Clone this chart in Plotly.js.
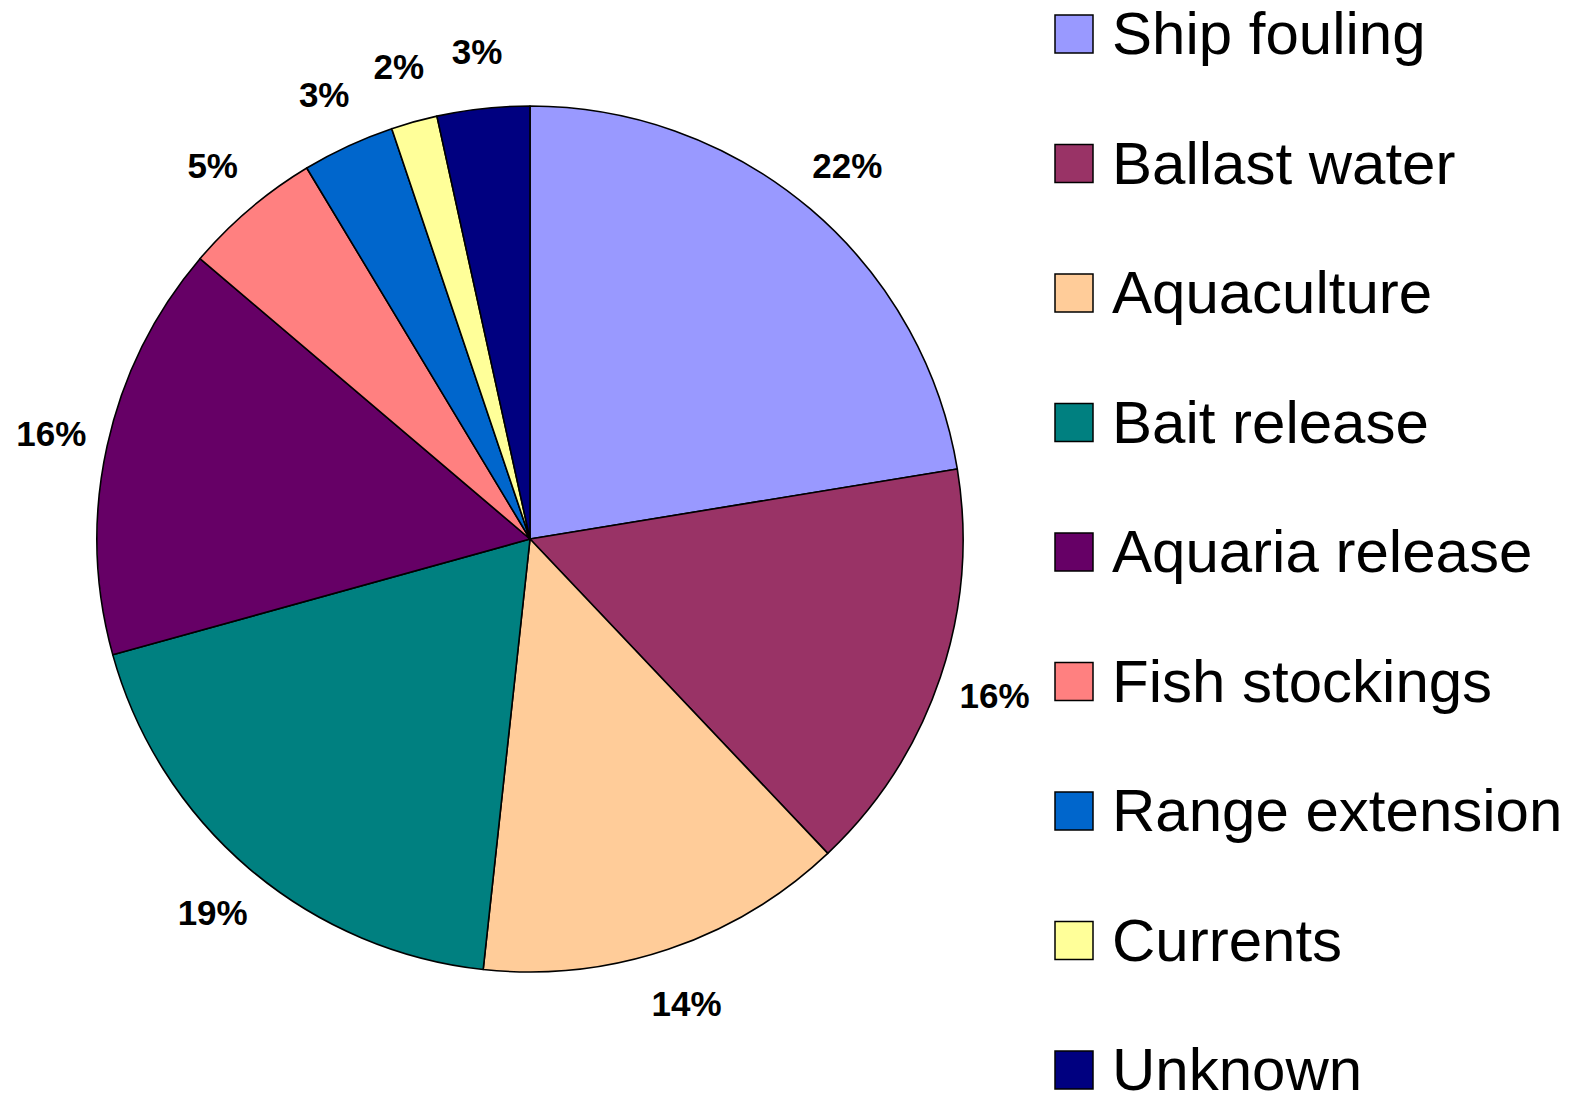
<!DOCTYPE html>
<html>
<head>
<meta charset="utf-8">
<script src="https://cdn.plot.ly/plotly-3.0.1.min.js"></script>
<style>
  html, body { margin: 0; padding: 0; background: #ffffff; }
  #chart { width: 1576px; height: 1094px; }
</style>
</head>
<body>
<div id="chart"></div>
<script>
// ---- data ----
const categories = ["Ship fouling", "Ballast water", "Aquaculture", "Bait release",
                    "Aquaria release", "Fish stockings", "Range extension", "Currents", "Unknown"];
const counts = [13, 9, 8, 11, 9, 3, 2, 1, 2];
const sliceColors = ["#9999FF", "#993366", "#FFCC99", "#008080", "#660066",
                     "#FF8080", "#0066CC", "#FFFF99", "#000080"];

// ---- layout geometry (pixels) ----
const W = 1576, H = 1094;
const cx = 530, cy = 539, R = 433;     // pie centre and radius
const labelRadius = 1.132;             // label distance in pie radii
const labelDrop = 4;                   // px, vertical text correction
const legendX = 1074, legendTop = 34, legendStep = 129.5;
const legendTextOffset = 38;
const legendTextDrop = 5;              // px, vertical text correction
const FONT = "Arial, 'Liberation Sans', sans-serif";

// ---- derived label positions (from the data) ----
const total = counts.reduce((a, b) => a + b, 0);
const pctText = [], lx = [], ly = [];
let cum = 0;
counts.forEach(v => {
  const mid = (cum + v / 2) / total * 2 * Math.PI; // clockwise from top
  cum += v;
  lx.push(labelRadius * Math.sin(mid));
  ly.push(labelRadius * Math.cos(mid) - labelDrop / R);
  pctText.push(Math.round(v / total * 100) + "%");
});
const legY = categories.map((c, i) => -i);
const legYT = categories.map((c, i) => -i - legendTextDrop / legendStep);
const legX0 = categories.map(() => 0);
const legXT = categories.map(() => legendTextOffset);

const pie = {
  type: "pie",
  values: counts,
  labels: categories,
  marker: { colors: sliceColors, line: { color: "#000000", width: 1.6 } },
  sort: false,
  direction: "clockwise",
  rotation: 0,
  textinfo: "none",
  hoverinfo: "label+percent",
  domain: { x: [(cx - R) / W, (cx + R) / W], y: [(H - cy - R) / H, (H - cy + R) / H] },
  showlegend: false
};

const pctLabels = {
  type: "scatter",
  mode: "text",
  x: lx, y: ly,
  text: pctText,
  textposition: "middle center",
  textfont: { family: FONT, size: 35, color: "#000000", weight: "bold" },
  cliponaxis: false,
  hoverinfo: "skip",
  xaxis: "x", yaxis: "y",
  showlegend: false
};

const legSquares = {
  type: "scatter",
  mode: "markers",
  x: legX0, y: legY,
  marker: { symbol: "square", size: 38, color: sliceColors, line: { color: "#000000", width: 1.5 } },
  cliponaxis: false,
  hoverinfo: "skip",
  xaxis: "x2", yaxis: "y2",
  showlegend: false
};

const legText = {
  type: "scatter",
  mode: "text",
  x: legXT, y: legYT,
  text: categories,
  textposition: "middle right",
  textfont: { family: FONT, size: 60, color: "#000000" },
  cliponaxis: false,
  hoverinfo: "skip",
  xaxis: "x2", yaxis: "y2",
  showlegend: false
};

const hidden = { visible: false, showgrid: false, zeroline: false, fixedrange: true };
const legDomX = [0.6, 1];
const legLeftPx = legDomX[0] * W;

const layout = {
  width: W, height: H,
  margin: { l: 0, r: 0, t: 0, b: 0, pad: 0 },
  paper_bgcolor: "#ffffff",
  plot_bgcolor: "rgba(0,0,0,0)",
  showlegend: false,
  xaxis: Object.assign({ domain: [0, 1], range: [-cx / R, (W - cx) / R] }, hidden),
  yaxis: Object.assign({ domain: [0, 1], range: [-(H - cy) / R, cy / R] }, hidden),
  xaxis2: Object.assign({ domain: legDomX, range: [-(legendX - legLeftPx), W - legendX], anchor: "y2" }, hidden),
  yaxis2: Object.assign({ domain: [0, 1], range: [-(H - legendTop) / legendStep, legendTop / legendStep], anchor: "x2" }, hidden)
};

Plotly.newPlot("chart", [pie, pctLabels, legSquares, legText], layout, { displayModeBar: false, staticPlot: true });
</script>
</body>
</html>
